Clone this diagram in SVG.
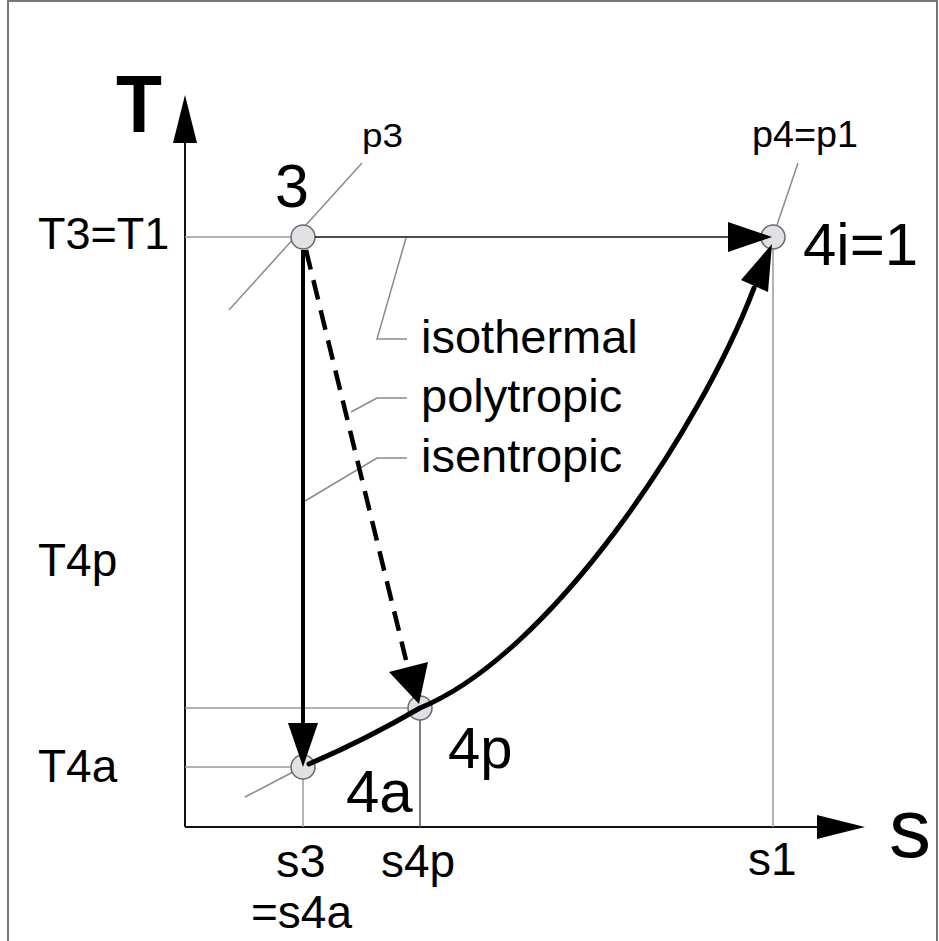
<svg xmlns="http://www.w3.org/2000/svg" width="939" height="941" viewBox="0 0 939 941">
<style>
.bg{fill:#fff}
.frame{fill:none;stroke:#777;stroke-width:2}
.axis{stroke:#111;stroke-width:2;fill:none}
.grid{stroke:#9a9a9a;stroke-width:1.5;fill:none}
.lead{stroke:#8a8a8a;stroke-width:1.5;fill:none}
.thin{stroke:#111;stroke-width:1.6;fill:none}
.thick{stroke:#000;stroke-width:4;fill:none}
.curve{stroke:#000;stroke-width:5;fill:none;stroke-linecap:round}
.dash{stroke:#000;stroke-width:4.5;fill:none;stroke-dasharray:20 11}
.head{fill:#000}
.pt{fill:#dfe1e4;stroke:#6a6a6a;stroke-width:1.5}
text{font-family:"Liberation Sans",Arial,sans-serif;fill:#000}
</style>
<rect class="bg" x="0" y="0" width="939" height="941"/>
<rect class="frame" x="8" y="1" width="929" height="950"/>

<g id="axes">
  <line class="axis" x1="185" y1="827" x2="185" y2="140"/>
  <polygon class="head" points="185,95 173,143 197,143"/>
  <line class="axis" x1="185" y1="827" x2="820" y2="827"/>
  <polygon class="head" points="865,827 817,815 817,839"/>
  <text x="116" y="132" font-size="82" font-weight="bold" textLength="46" lengthAdjust="spacingAndGlyphs">T</text>
  <text x="889" y="857" font-size="84">s</text>
</g>

<g id="gridlines">
  <line class="grid" x1="185" y1="237" x2="291" y2="237"/>
  <line class="grid" x1="185" y1="708" x2="408" y2="708"/>
  <line class="grid" x1="185" y1="767" x2="291" y2="767"/>
  <line class="grid" x1="303" y1="779" x2="303" y2="827"/>
  <line x1="420" y1="720" x2="420" y2="827" stroke="#555" stroke-width="1.5"/>
  <line class="grid" x1="773" y1="249" x2="773" y2="827"/>
</g>

<g id="isobars">
  <line class="lead" x1="229" y1="310" x2="362" y2="163"/>
  <line class="lead" x1="777" y1="225" x2="798" y2="163"/>
  <line class="lead" x1="245" y1="797" x2="293" y2="772"/>
</g>

<g id="leaders">
  <polyline class="lead" points="406,238 377,339 407,339"/>
  <polyline class="lead" points="351,412 377,398 407,398"/>
  <polyline class="lead" points="305,501 377,458 407,458"/>
</g>

<g id="point-3"><circle class="pt" cx="303" cy="237" r="12"/></g>
<g id="point-4i"><circle class="pt" cx="773" cy="237" r="12"/></g>
<g id="point-4p"><circle class="pt" cx="420" cy="708" r="12"/></g>
<g id="point-4a"><circle class="pt" cx="303" cy="767" r="12"/></g>

<g id="connectors">
  <line class="thin" x1="315" y1="237" x2="730" y2="237"/>
  <polygon class="head" points="772,237 728,222 728,252"/>
  <line class="thick" x1="303" y1="250" x2="303" y2="726"/>
  <polygon class="head" points="303,767 288,723 318,723"/>
  <line class="dash" x1="306" y1="250" x2="406" y2="660"/>
  <polygon class="head" points="419,704 389,672 428,662"/>
  <path class="curve" d="M309,764 Q365,740 420,708 C550,655 700,430 754,288"/>
  <polygon class="head" points="772,244 741,280 768,292"/>
</g>

<g id="labels">
  <text x="292" y="207" font-size="61" text-anchor="middle">3</text>
  <text x="362" y="147" font-size="34" textLength="41" lengthAdjust="spacingAndGlyphs">p3</text>
  <text x="752" y="147" font-size="36" textLength="106" lengthAdjust="spacingAndGlyphs">p4=p1</text>
  <text x="803" y="265" font-size="60">4i=1</text>
  <text x="448" y="768" font-size="58">4p</text>
  <text x="346" y="812" font-size="60">4a</text>
  <text x="38" y="249" font-size="45">T3=T1</text>
  <text x="38" y="576" font-size="46">T4p</text>
  <text x="38" y="782" font-size="46">T4a</text>
  <text x="421" y="353" font-size="47">isothermal</text>
  <text x="421" y="412" font-size="47">polytropic</text>
  <text x="421" y="472" font-size="47">isentropic</text>
  <text x="276" y="877" font-size="47">s3</text>
  <text x="251" y="928" font-size="46">=s4a</text>
  <text x="381" y="877" font-size="46">s4p</text>
  <text x="748" y="875" font-size="46">s1</text>
</g>
</svg>
